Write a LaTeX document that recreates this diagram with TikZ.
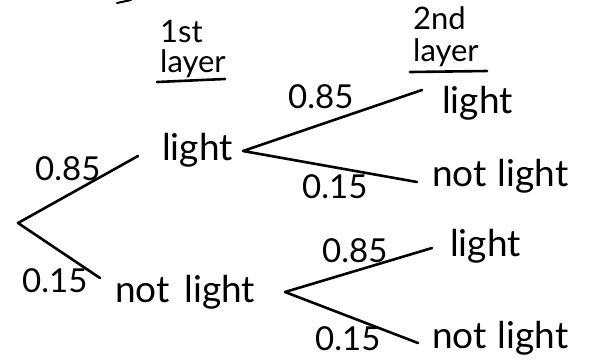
\documentclass[tikz,border=0pt]{standalone}
\usepackage{fontspec}
\setmainfont{Lato}
\begin{document}
\begin{tikzpicture}[x=1pt,y=-1pt,
  branch/.style={line width=2.6pt,line cap=round,line join=round},
  word/.style={inner sep=0pt,anchor=base west,font=\fontsize{37}{37}\selectfont},
  prob/.style={inner sep=0pt,anchor=base west,font=\fontsize{33}{33}\selectfont},
  head/.style={inner sep=0pt,anchor=base west,font=\fontsize{31}{31}\selectfont},
  uline/.style={line width=2.6pt,line cap=round}]
\useasboundingbox (0,0) rectangle (597,360);
% coordinates of branch points and free ends
\coordinate (root) at (18,223);
\coordinate (r1) at (138,156);
\coordinate (r2) at (100,278);
\coordinate (v1) at (243,151);
\coordinate (v1a) at (422,90);
\coordinate (v1b) at (417,182);
\coordinate (v2) at (285,292);
\coordinate (v2a) at (432,248);
\coordinate (v2b) at (418,343);
\coordinate (f1) at (117,3);
\coordinate (f2) at (131,0);
% headers
\node[head] (h1a) at (160,42) {1st};
\node[head] (h1b) at (160,72) {layer};
\node[head] (h2a) at (413,29) {2nd};
\node[head] (h2b) at (413,61) {layer};
\coordinate (u1a) at (157,82); \coordinate (u1b) at (225,79);
\coordinate (u2a) at (410,72); \coordinate (u2b) at (487,71);
\draw[uline] (u1a) -- (u1b);
\draw[uline] (u2a) -- (u2b);
% first layer words
\node[word] (l1) at (162,160) {light};
\node[word] (n1) at (115,302) {not\hspace{0.4em}light};
% second layer words
\node[word] (l11) at (442,113) {light};
\node[word] (n11) at (432,186) {not\hspace{0.3em}light};
\node[word] (l21) at (450,256) {light};
\node[word] (n21) at (432,348) {not\hspace{0.3em}light};
% probabilities
\node[prob] (p1) at (35,180) {0.85};
\node[prob] (p2) at (22,292) {0.15};
\node[prob] (p11) at (288,108) {0.85};
\node[prob] (p12) at (302,198) {0.15};
\node[prob] (p21) at (322,262) {0.85};
\node[prob] (p22) at (315,350) {0.15};
% branches
\draw[branch] (r1) -- (root) -- (r2);
\draw[branch] (v1a) -- (v1) -- (v1b);
\draw[branch] (v2a) -- (v2) -- (v2b);
\draw[line width=2pt,line cap=round] (f1) -- (f2);
\end{tikzpicture}
\end{document}
